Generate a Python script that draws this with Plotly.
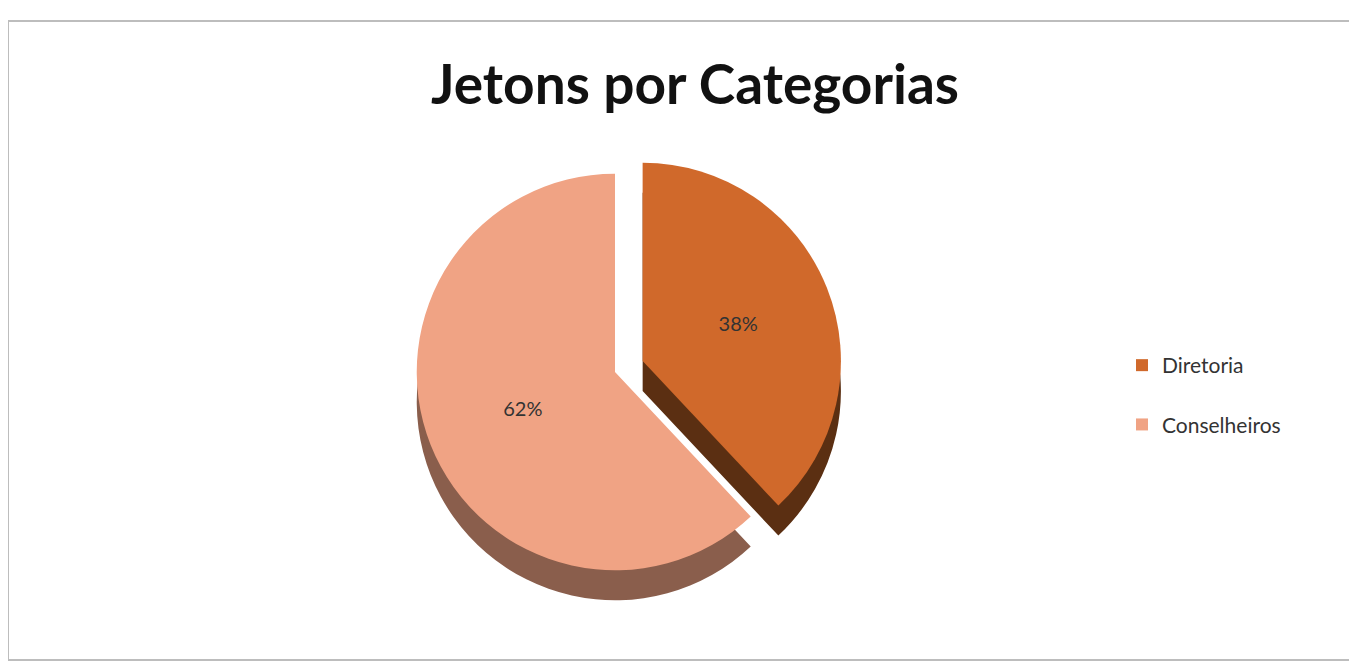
import plotly.graph_objects as go

categories = ["Diretoria", "Conselheiros"]
values = [38, 62]
top_colors = ["#D0692B", "#F0A384"]
side_colors = ["#5B2F12", "#8A5E4C"]

W, H = 1357, 664
OFF = 8  # page body offset
cx, cy, r = 615 - OFF, 372 - OFF, 228
depth = 30

def dom(cx, cy, r):
    return dict(x=[(cx - r) / W, (cx + r) / W], y=[(H - cy - r) / H, (H - cy + r) / H])

fig = go.Figure()
# side (depth) layer
fig.add_trace(go.Pie(
    labels=categories, values=values, sort=False, direction="clockwise", rotation=0,
    pull=[0.15, 0], marker=dict(colors=side_colors, line=dict(width=0)),
    textinfo="none", hoverinfo="skip", showlegend=False, domain=dom(cx, cy + depth, r),
))
# top layer
fig.add_trace(go.Pie(
    labels=categories, values=values, sort=False, direction="clockwise", rotation=0,
    pull=[0.15, 0], marker=dict(colors=top_colors, line=dict(width=0)),
    textinfo="percent", textposition="inside", insidetextorientation="horizontal",
    textfont=dict(family="Lato, Open Sans, sans-serif", size=20, color="#333333"),
    showlegend=False, domain=dom(cx, cy, r),
))
# legend entries (one per category, spaced like the reference)
for i, (name, col) in enumerate(zip(categories, top_colors)):
    fig.add_trace(go.Scatter(
        x=[None], y=[None], mode="markers", name=name, legendgroup=name,
        marker=dict(symbol="square", size=12, color=col),
    ))

fig.update_layout(
    width=W, height=H, margin=dict(l=0, r=0, t=0, b=0),
    paper_bgcolor="white", plot_bgcolor="white",
    xaxis=dict(visible=False), yaxis=dict(visible=False),
    title=dict(text="<b>Jetons por Categorias</b>", x=(695 - OFF) / W, xanchor="center",
               y=1 - (85 - OFF) / H, yanchor="middle",
               font=dict(family="Lato, Open Sans, sans-serif", size=55, color="#111111")),
    legend=dict(x=(1122 - OFF) / W, y=(H - (345 - OFF)) / H, xanchor="left", yanchor="top",
                font=dict(family="Lato, Open Sans, sans-serif", size=21, color="#333333"),
                tracegroupgap=29, itemsizing="constant"),
    shapes=[dict(type="rect", xref="paper", yref="paper", x0=0, x1=1.02,
                 y0=(H - (660 - OFF)) / H, y1=(H - (21 - OFF)) / H,
                 line=dict(color="#BDBDBD", width=2), fillcolor="rgba(0,0,0,0)")],
)

fig.write_html("out.html")
